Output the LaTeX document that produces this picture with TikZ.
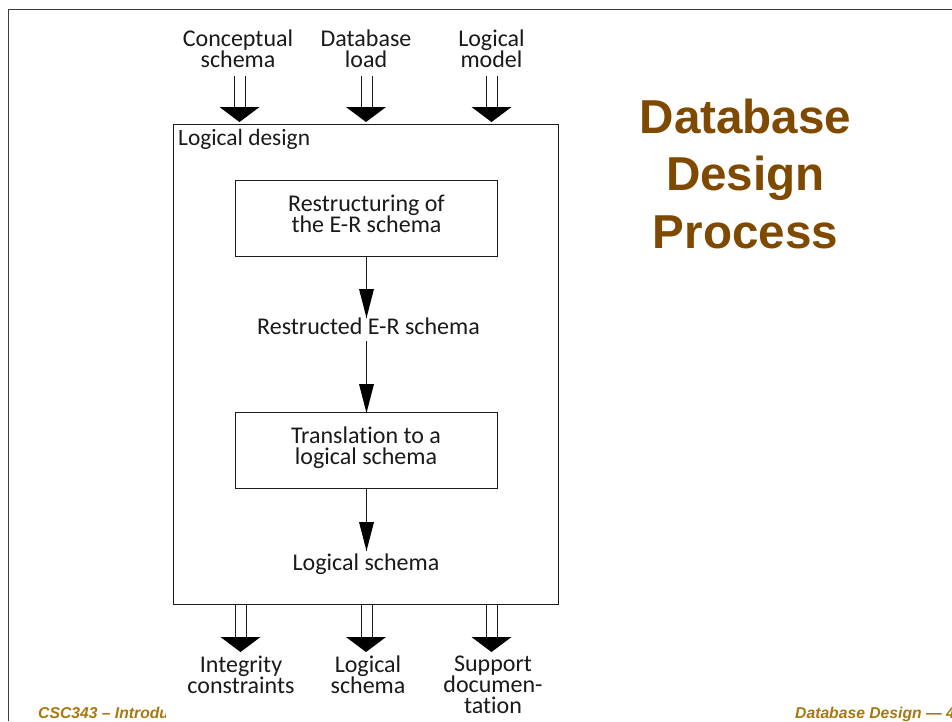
\documentclass[tikz,border=0pt]{standalone}
\usepackage{fontspec}
\setmainfont[Ligatures=NoCommon]{Carlito}
\newfontfamily\headfont{Liberation Sans}
\usetikzlibrary{calc}
\definecolor{titlebrown}{HTML}{7F4A00}
\definecolor{footbrown}{HTML}{A8780F}
\definecolor{ink}{HTML}{1A1A1A}
\tikzset{
  x=1pt,y=-1pt,
  lbl/.style={inner sep=0pt,align=center,font=\fontsize{24}{21}\selectfont,text=ink},
  boxx/.style={draw=ink,line width=1pt,inner sep=0pt},
  rail/.style={draw=ink,line width=1pt},
  wedge/.style={fill=black,draw=none},
  foot/.style={inner sep=0pt,anchor=base west,font=\headfont\bfseries\itshape\fontsize{15.7}{15.7}\selectfont,text=footbrown},
}
\newcommand{\dblarrow}[2]{%
  \draw[rail] ($(#1)+(-5,0)$) -- ($(#1)+(-5,#2)$);
  \draw[rail] ($(#1)+(6,0)$) -- ($(#1)+(6,#2)$);
  \fill[wedge] ($(#1)+(-20,#2)$) -- ($(#1)+(20,#2)$) -- ($(#1)+(0,#2+15)$) -- cycle;
}
\newcommand{\sglarrow}[2]{%
  \draw[rail,line width=1.1pt] (#1) -- (#2);
  \fill[wedge] ($(#2)+(-7.5,-29)$) -- ($(#2)+(7.5,-29)$) -- (#2) -- cycle;
}
\begin{document}
\begin{tikzpicture}
\useasboundingbox (0,0) rectangle (952,721);
\fill[white] (0,0) rectangle (952,721);
\draw[draw=ink!85,line width=1pt] (8.5,721) -- (8.5,9.5) -- (952,9.5);

% footer
\node[foot] (footl) at (38,718) {CSC343 – Introdu};
\fill[white] (166,700) rectangle (200,721);
\node[foot] (footr) at (795,718) {Database Design — 4};

% title
\node[inner sep=0pt,align=center,font=\headfont\bfseries\fontsize{47.6}{57.5}\selectfont,text=titlebrown] (title) at (745.5,173.5) {Database\\Design\\Process};

% main boxes
\node[boxx,minimum width=385pt,minimum height=480pt] (outer) at (366,364) {};
\node[lbl,anchor=west,font=\fontsize{23.4}{21}\selectfont] (ld) at (178,139.5) {Logical design};
\node[boxx,minimum width=262pt,minimum height=76pt] (b1) at (366,218) {};
\node[lbl] (b1t) at (366.5,213.5) {Restructuring of\\the E-R schema};
\node[boxx,minimum width=262pt,minimum height=76pt] (b2) at (366,450) {};
\node[lbl] (b2t) at (366,447.5) {Translation to a\\logical schema};
\node[lbl] (m1) at (368.5,326) {Restructed E-R schema};
\node[lbl] (m2) at (366,564.5) {Logical schema};

% top labels
\node[lbl] (t1) at (238,49) {Conceptual\\schema};
\node[lbl] (t2) at (366,48.5) {Database\\load};
\node[lbl] (t3) at (491.5,49) {Logical\\model};
% bottom labels
\node[lbl] (d1) at (241,674.5) {Integrity\\constraints};
\node[lbl] (d2) at (368,674.5) {Logical\\schema};
\node[lbl] (d3) at (493,684.5) {Support\\documen-\\tation};

% input arrows
\coordinate (i1) at (239.5,76); \coordinate (i2) at (366,76); \coordinate (i3) at (491.5,76);
\dblarrow{i1}{31}
\dblarrow{i2}{31}
\dblarrow{i3}{31}
% output arrows
\coordinate (o1) at (240.5,604); \coordinate (o2) at (366,604); \coordinate (o3) at (491.5,604);
\dblarrow{o1}{33}
\dblarrow{o2}{33}
\dblarrow{o3}{33}

% flow arrows
\coordinate (a1) at (366.5,256); \coordinate (a1e) at (366.5,318);
\coordinate (a2) at (366.5,341); \coordinate (a2e) at (366.5,413);
\coordinate (a3) at (366.5,488); \coordinate (a3e) at (366.5,551);
\sglarrow{a1}{a1e}
\sglarrow{a2}{a2e}
\sglarrow{a3}{a3e}
\end{tikzpicture}
\end{document}
